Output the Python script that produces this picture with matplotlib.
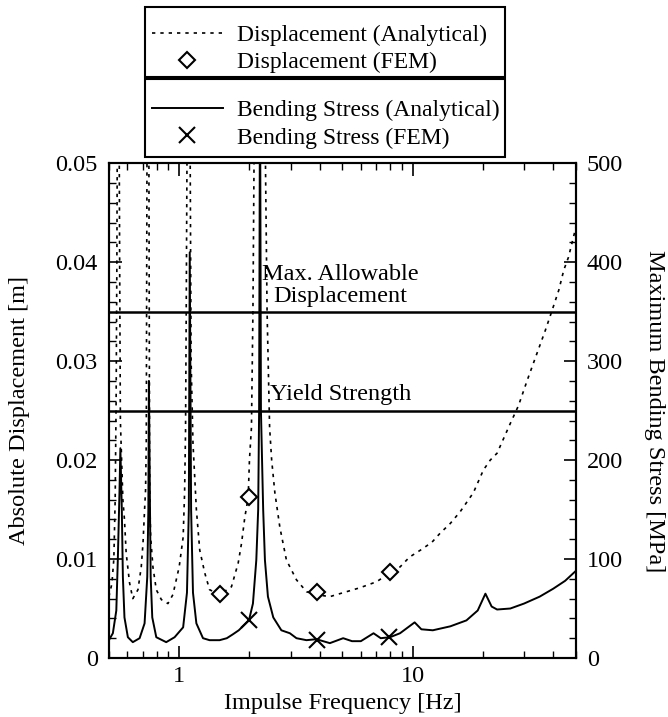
import matplotlib
matplotlib.use('Agg')
import matplotlib.pyplot as plt
from matplotlib.patches import Rectangle
from matplotlib.ticker import FixedLocator, FixedFormatter, NullFormatter

plt.rcParams['font.family'] = ['Liberation Serif', 'DejaVu Serif']

# displacement, analytical [Hz, m]
disp_freq = [0.500, 0.515, 0.525, 0.532, 0.537, 0.541, 0.548, 0.556, 0.560, 0.574,
             0.583, 0.593, 0.613, 0.633, 0.666, 0.688, 0.700, 0.711, 0.718, 0.723,
             0.728, 0.735, 0.742, 0.747, 0.750, 0.755, 0.772, 0.798, 0.839, 0.895,
             0.940, 1.000, 1.040, 1.055, 1.065, 1.072, 1.080, 1.095, 1.115, 1.125,
             1.146, 1.185, 1.225, 1.287, 1.350, 1.490, 1.675, 1.790, 1.850, 1.910,
             1.975, 2.000, 2.040, 2.070, 2.100, 2.200, 2.330, 2.380, 2.440, 2.490,
             2.570, 2.700, 2.880, 3.180, 3.510, 3.870, 4.420, 5.040, 5.950, 7.000,
             8.000, 8.830, 9.700, 10.80, 12.10, 13.10, 14.50, 16.00, 18.20, 20.10,
             21.50, 23.00, 26.20, 28.40, 31.00, 34.10, 37.00, 39.40, 42.30, 44.40,
             46.50, 50.00]
disp_val = [0.0062, 0.0075, 0.0100, 0.0160, 0.0260, 0.0400, 0.0800, 0.0400, 0.0240, 0.0160,
            0.0140, 0.0106, 0.0076, 0.0060, 0.0069, 0.0092, 0.0116, 0.0150, 0.0170, 0.0220,
            0.0500, 0.0900, 0.0500, 0.0200, 0.0150, 0.0122, 0.0092, 0.0069, 0.0059, 0.0055,
            0.0064, 0.0092, 0.0122, 0.0167, 0.0230, 0.0350, 0.0500, 0.0800, 0.0500, 0.0300,
            0.0217, 0.0150, 0.0109, 0.0086, 0.0069, 0.0064, 0.0072, 0.0096, 0.0116, 0.0142,
            0.0162, 0.0200, 0.0233, 0.0350, 0.0550, 0.0900, 0.0550, 0.0350, 0.0233, 0.0200,
            0.0167, 0.0132, 0.0099, 0.0079, 0.0067, 0.0064, 0.0062, 0.0066, 0.0071, 0.0077,
            0.0086, 0.0092, 0.0102, 0.0109, 0.0117, 0.0126, 0.0136, 0.0148, 0.0167, 0.0190,
            0.0200, 0.0207, 0.0237, 0.0255, 0.0281, 0.0308, 0.0331, 0.0350, 0.0372, 0.0392,
            0.0405, 0.0435]

# bending stress, analytical [Hz, MPa]
stress_freq = [0.500, 0.520, 0.538, 0.546, 0.555, 0.560, 0.568, 0.574, 0.583, 0.603,
               0.633, 0.677, 0.711, 0.730, 0.738, 0.742, 0.750, 0.755, 0.767, 0.798,
               0.880, 0.956, 1.040, 1.080, 1.100, 1.110, 1.125, 1.146, 1.185, 1.265,
               1.350, 1.490, 1.600, 1.700, 1.800, 1.990, 2.070, 2.140, 2.180, 2.200,
               2.220, 2.240, 2.290, 2.330, 2.400, 2.530, 2.740, 2.980, 3.180, 3.510,
               3.870, 4.420, 5.040, 5.500, 6.000, 6.800, 7.300, 8.000, 8.830, 10.20,
               10.90, 12.20, 14.50, 17.00, 19.00, 20.50, 21.80, 23.00, 26.20, 30.00,
               35.00, 40.00, 45.00, 50.00]
stress_val = [18, 25, 48, 99, 167, 212, 150, 82, 41, 21,
              16, 20, 35, 82, 150, 280, 150, 82, 41, 21,
              16, 21, 31, 66, 150, 410, 150, 66, 35, 20,
              18, 18, 20, 24, 28, 38, 55, 99, 150, 250,
              600, 250, 150, 99, 62, 41, 28, 25, 20, 18,
              19, 15, 20, 17, 17, 25, 20, 21, 25, 36,
              29, 28, 32, 38, 48, 65, 52, 49, 50, 55,
              62, 70, 78, 88]

# FEM results
fem_disp_freq = [1.5, 2.0, 3.9, 8.0]
fem_disp_val = [0.0065, 0.0163, 0.0067, 0.0087]
fem_stress_freq = [2.0, 3.9, 7.9]
fem_stress_val = [38, 18, 21]

max_disp = 0.035
yield_strength = 250

fig = plt.figure(figsize=(6.68, 7.17), dpi=100)
ax = fig.add_axes([0.163, 0.0823, 0.699, 0.690])
ax2 = ax.twinx()

d_line, = ax.plot(disp_freq, disp_val, color='black', lw=1.2, linestyle=(0, (2, 3)))
d_fem, = ax.plot(fem_disp_freq, fem_disp_val, linestyle='none', marker='D', ms=8.5,
                 mfc='white', mec='black', mew=1.5)
s_line, = ax2.plot(stress_freq, stress_val, color='black', lw=1.4)
s_fem, = ax2.plot(fem_stress_freq, fem_stress_val, linestyle='none', marker='x', ms=12,
                  mec='black', mew=1.5)
ax.axhline(max_disp, color='black', lw=1.8)
ax2.axhline(yield_strength, color='black', lw=1.8)

ax.set_xscale('log')
ax.set_xlim(0.5, 50)
ax.set_ylim(0, 0.05)
ax2.set_ylim(0, 500)

fs = 17.5
ax.xaxis.set_major_locator(FixedLocator([1, 10]))
ax.xaxis.set_major_formatter(FixedFormatter(['1', '10']))
ax.xaxis.set_minor_locator(FixedLocator([0.5, 0.6, 0.7, 0.8, 0.9, 2, 3, 4, 5, 6, 7, 8, 9,
                                         20, 30, 40, 50]))
ax.xaxis.set_minor_formatter(NullFormatter())
ax.set_yticks([0, 0.01, 0.02, 0.03, 0.04, 0.05])
ax.set_yticklabels(['0', '0.01', '0.02', '0.03', '0.04', '0.05'])
ax.set_yticks([i * 0.002 for i in range(26)], minor=True)
ax2.set_yticks([0, 100, 200, 300, 400, 500])
ax2.set_yticks(range(0, 501, 20), minor=True)

ax.tick_params(axis='x', which='both', direction='in', top=True, labelsize=fs, pad=6)
ax.tick_params(axis='x', which='major', length=9, width=1.2)
ax.tick_params(axis='x', which='minor', length=5, width=1.0)
ax.tick_params(axis='y', which='both', direction='in', labelsize=fs, pad=8)
ax.tick_params(axis='y', which='major', length=9, width=1.2)
ax.tick_params(axis='y', which='minor', length=5, width=1.0)
ax2.tick_params(axis='y', which='both', direction='in', labelsize=fs, pad=8)
ax2.tick_params(axis='y', which='major', length=9, width=1.2)
ax2.tick_params(axis='y', which='minor', length=5, width=1.0)
for a in (ax, ax2):
    for s in a.spines.values():
        s.set_linewidth(1.5)

ax.set_xlabel('Impulse Frequency [Hz]', fontsize=fs, labelpad=4)
ax.set_ylabel('Absolute Displacement [m]', fontsize=fs, labelpad=18)
ax2.set_ylabel('Maximum Bending Stress [MPa]', fontsize=fs, rotation=-90, labelpad=30)

ax.text(4.9, 0.0388, 'Max. Allowable', fontsize=fs, ha='center', va='center')
ax.text(4.9, 0.0365, 'Displacement', fontsize=fs, ha='center', va='center')
ax.text(4.9, 0.0266, 'Yield Strength', fontsize=fs, ha='center', va='center')

# legend boxes, drawn as two stacked frames
for y0, h in [(0.8926, 0.0976), (0.7810, 0.1088)]:
    fig.patches.append(Rectangle((0.2171, y0), 0.5389, h, transform=fig.transFigure,
                                 fill=False, edgecolor='black', lw=1.5))

leg_kw = dict(loc='center left', fontsize=17, frameon=False, handlelength=3.0,
              handletextpad=0.6, labelspacing=0.25, borderpad=0, borderaxespad=0)
fig.legend([d_line, d_fem], ['Displacement (Analytical)', 'Displacement (FEM)'],
           bbox_to_anchor=(0.2275, 0.9317), **leg_kw)
fig.legend([s_line, s_fem], ['Bending Stress (Analytical)', 'Bending Stress (FEM)'],
           bbox_to_anchor=(0.2275, 0.8270), **leg_kw)

fig.savefig('out.png', dpi=100)
